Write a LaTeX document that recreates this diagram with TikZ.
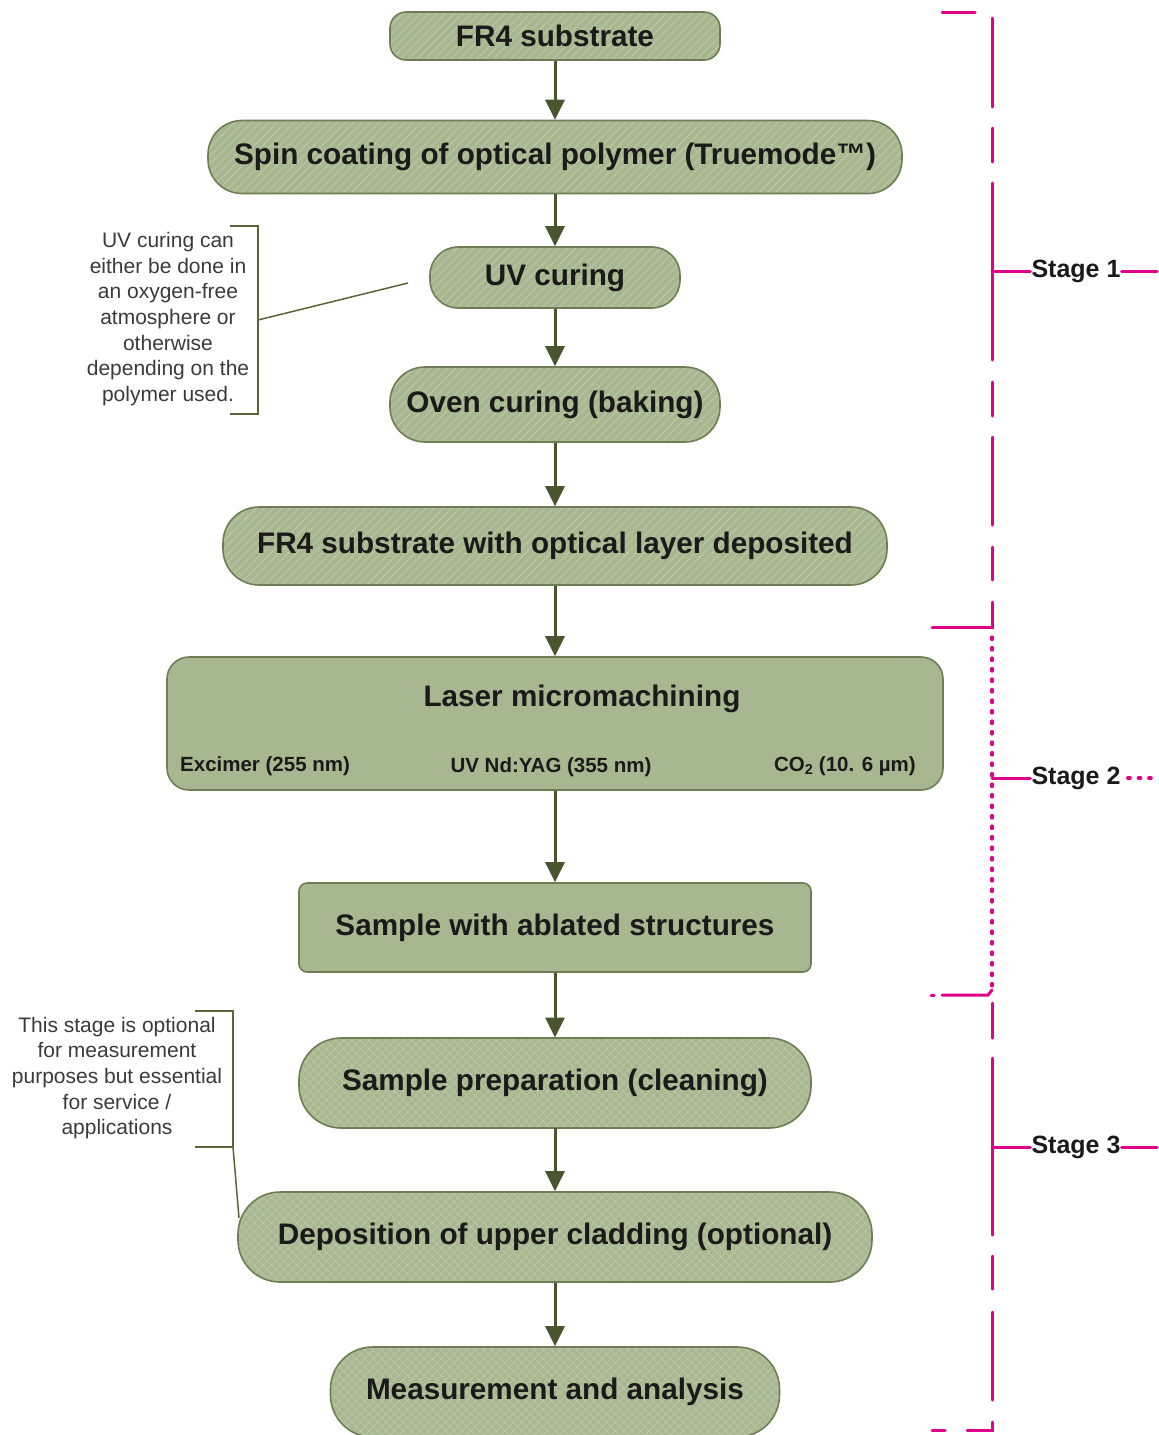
\documentclass[tikz,border=0pt]{standalone}
\usepackage{fontspec}
\setmainfont{Liberation Sans}
\usetikzlibrary{arrows.meta,patterns.meta}
\definecolor{sage}{HTML}{A7B78F}
\definecolor{hatchc}{HTML}{B7C5A2}
\definecolor{bordc}{HTML}{6F7D55}
\definecolor{arrc}{HTML}{4A5530}
\definecolor{magc}{HTML}{E0008A}
\definecolor{notec}{HTML}{3A3A3A}
\definecolor{notel}{HTML}{5A6438}
\definecolor{txtc}{HTML}{1A1A1A}
\tikzset{
  boxbase/.style={draw=bordc, line width=1.6pt, inner sep=0pt, text=txtc,
    font=\fontsize{29.7}{32}\selectfont\bfseries},
  hatchbox/.style={boxbase, preaction={fill=sage},
    pattern={Lines[angle=45,distance=6pt,line width=1.3pt]}, pattern color=hatchc},
  crossbox/.style={boxbase, preaction={fill=sage},
    pattern={Hatch[angle=45,distance=6pt,line width=0.9pt]}, pattern color=hatchc},
  plainbox/.style={boxbase, fill=sage},
  flowarrow/.style={draw=arrc, line width=3pt, -{Triangle[width=19pt,length=20pt]}},
  stagebar/.style={draw=magc, line width=3pt, line cap=round},
  stagedots/.style={draw=magc, line width=3.2pt, line cap=round, dash pattern=on 2.5pt off 8pt},
  stagelabel/.style={font=\fontsize{25}{27}\selectfont\bfseries, text=txtc, inner sep=1pt},
  notetext/.style={font=\fontsize{21}{25.6}\selectfont, text=notec, align=center, inner sep=0pt},
  notebar/.style={draw=notel, line width=1.5pt},
  sublabel/.style={font=\fontsize{20.5}{22}\selectfont\bfseries, text=txtc, inner sep=0pt}
}
\begin{document}
\begin{tikzpicture}[x=1pt,y=-1pt]
\useasboundingbox (0,0) rectangle (1159,1435);

% flow nodes
\node[hatchbox, minimum width=330pt, minimum height=48pt, rounded corners=16pt] (n1) at (555,36) {FR4 substrate};
\node[hatchbox, minimum width=694pt, minimum height=73pt, rounded corners=34pt] (n2) at (555,157) {Spin coating of optical polymer (Truemode™)};
\node[hatchbox, minimum width=250pt, minimum height=61pt, rounded corners=28pt] (n3) at (555,277.5) {UV curing};
\node[hatchbox, minimum width=330pt, minimum height=75pt, rounded corners=35pt] (n4) at (555,404.5) {Oven curing (baking)};
\node[hatchbox, minimum width=664pt, minimum height=78pt, rounded corners=36pt] (n5) at (555,546) {FR4 substrate with optical layer deposited};
\node[plainbox, minimum width=776pt, minimum height=133pt, rounded corners=22pt] (n6) at (555,723.5) {};
\node[boxbase, draw=none] (n6t) at (582,699) {Laser micromachining};
\node[sublabel, anchor=west] (n6a) at (180,766) {Excimer (255 nm)};
\node[sublabel] (n6b) at (551,767) {UV Nd:YAG (355 nm)};
\node[sublabel, anchor=east] (n6c) at (916,766) {CO\textsubscript{2} (10. 6 µm)};
\node[plainbox, minimum width=512pt, minimum height=89pt, rounded corners=8pt] (n7) at (555,927.5) {Sample with ablated structures};
\node[crossbox, minimum width=512pt, minimum height=90pt, rounded corners=42pt] (n8) at (555,1083) {Sample preparation (cleaning)};
\node[crossbox, minimum width=634pt, minimum height=90pt, rounded corners=42pt] (n9) at (555,1237) {Deposition of upper cladding (optional)};
\node[crossbox, minimum width=449pt, minimum height=90pt, rounded corners=42pt] (n10) at (555,1392) {Measurement and analysis};

% arrows
\draw[flowarrow] (n1.south) -- (n2.north);
\draw[flowarrow] (n2.south) -- (n3.north);
\draw[flowarrow] (n3.south) -- (n4.north);
\draw[flowarrow] (n4.south) -- (n5.north);
\draw[flowarrow] (n5.south) -- (n6.north);
\draw[flowarrow] (n6.south) -- (n7.north);
\draw[flowarrow] (n7.south) -- (n8.north);
\draw[flowarrow] (n8.south) -- (n9.north);
\draw[flowarrow] (n9.south) -- (n10.north);

% annotation 1
\node[notetext] (a1) at (168,319) {UV curing can\\either be done in\\an oxygen-free\\atmosphere or\\otherwise\\depending on the\\polymer used.};
\coordinate (a1end) at (408,283);
\draw[notebar] (230,226) -- (258,226) -- (258,414) -- (230,414);
\draw[notebar] (258,320) -- (a1end);

% annotation 2
\node[notetext] (a2) at (117,1078) {This stage is optional\\for measurement\\purposes but essential\\for service /\\applications};
\coordinate (a2end) at (239,1218);
\draw[notebar] (195,1011) -- (233,1011) -- (233,1147) -- (195,1147);
\draw[notebar] (233,1147) -- (a2end);

% stage 1 bracket
\draw[stagebar] (942,12) -- (975,12);
\foreach \a/\b in {18/107,128/162,183/360,382/416,437/525,547/580}
  \draw[stagebar] (992,\a) -- (992,\b);
\draw[stagebar] (992,602) -- (992,627) -- (932,627);
\node[stagelabel] (s1) at (1076,271) {Stage 1};
\draw[stagebar] (992,271) -- (s1.west);
\draw[stagebar] (s1.east) -- (1157,271);

% stage 2 bracket
\draw[stagedots] (992,637) -- (992,990);
\node[stagelabel] (s2) at (1076,778) {Stage 2};
\draw[stagebar] (992,778) -- (s2.west);
\draw[stagedots] ([xshift=6pt]s2.east) -- (1157,778);
\draw[stagebar] (931,995) -- (934,995);
\draw[stagebar] (942,995) -- (988,995) -- (992,990);

% stage 3 bracket
\foreach \a/\b in {1003/1038,1058/1235,1256/1289,1312/1400}
  \draw[stagebar] (992,\a) -- (992,\b);
\draw[stagebar] (992,1422) -- (992,1430) -- (967,1430);
\draw[stagebar] (932,1430) -- (945,1430);
\node[stagelabel] (s3) at (1076,1147) {Stage 3};
\draw[stagebar] (992,1147) -- (s3.west);
\draw[stagebar] (s3.east) -- (1157,1147);
\end{tikzpicture}
\end{document}
